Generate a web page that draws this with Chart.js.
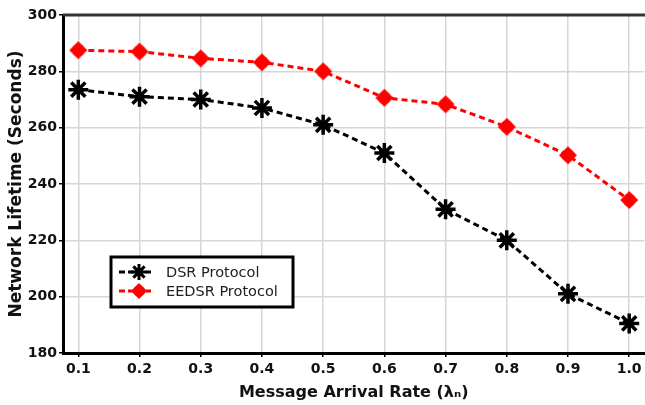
<!DOCTYPE html>
<html>
<head>
<meta charset="utf-8">
<script src="https://cdn.jsdelivr.net/npm/chart.js@4.4.1/dist/chart.umd.min.js"></script>
<style>
  html, body { margin: 0; padding: 0; background: #fff; overflow: hidden; }
  #wrap { width: 645px; height: 405px; overflow: hidden; }
</style>
</head>
<body>
<!-- canvas is a bit wider than the window: the plot runs off the right edge as in the source figure -->
<div id="wrap"><canvas id="lifetimeChart" width="658" height="405"></canvas></div>
<script>
const arrivalRates = [0.1, 0.2, 0.3, 0.4, 0.5, 0.6, 0.7, 0.8, 0.9, 1.0];
const dsrLifetime = [273.5, 271, 270, 267, 261, 251, 231, 220, 201, 190.5];
const eedsrLifetime = [287.5, 287, 284.6, 283.2, 280, 270.6, 268.3, 260.3, 250.2, 234.3];
const yTicks = [180, 200, 220, 240, 260, 280, 300];

const FONT = "'DejaVu Sans', sans-serif";

// red marker: a diamond laid over a disc
function diamondDot(r) {
    const c = document.createElement("canvas");
    c.width = c.height = r * 2 + 2;
    const g = c.getContext("2d");
    const m = r + 1;
    g.fillStyle = "#ff0000";
    g.beginPath();
    g.moveTo(m, m - r);
    g.lineTo(m + r, m);
    g.lineTo(m, m + r);
    g.lineTo(m - r, m);
    g.closePath();
    g.fill();
    g.beginPath();
    g.arc(m, m, r * 0.72, 0, Math.PI * 2);
    g.fill();
    return c;
}
const redMarker = diamondDot(9);
const redMarkerSmall = diamondDot(8);

// legend box drawn inside the plot area, like the original figure
const boxLegend = {
    id: "boxLegend",
    afterDraw(chart) {
        const ctx = chart.ctx;
        const x = 111, y = 257, w = 182, h = 50;
        ctx.save();
        ctx.fillStyle = "#fff";
        ctx.fillRect(x, y, w, h);
        ctx.lineWidth = 3;
        ctx.strokeStyle = "#000";
        ctx.strokeRect(x, y, w, h);
        chart.data.datasets.forEach((ds, i) => {
            const ly = y + 15 + i * 19;
            ctx.setLineDash([6, 3]);
            ctx.lineWidth = 3;
            ctx.strokeStyle = ds.borderColor;
            ctx.beginPath();
            ctx.moveTo(x + 8, ly);
            ctx.lineTo(x + 40, ly);
            ctx.stroke();
            ctx.setLineDash([]);
            if (i === 1) {
                ctx.drawImage(redMarkerSmall, x + 28 - redMarkerSmall.width / 2, ly - redMarkerSmall.height / 2);
            } else {
                ctx.strokeStyle = "#000";
                Chart.helpers.drawPoint(ctx, {
                    pointStyle: "star", radius: 8, rotation: 0, borderWidth: 3.5
                }, x + 28, ly);
            }
            ctx.fillStyle = "#222";
            ctx.font = "14.5px " + FONT;
            ctx.textBaseline = "middle";
            ctx.fillText(ds.label, x + 55, ly + 1);
        });
        ctx.restore();
    }
};

// heavy frame line along the top of the plot
const topFrame = {
    id: "topFrame",
    afterDatasetsDraw(chart) {
        const { ctx, chartArea } = chart;
        ctx.save();
        ctx.strokeStyle = "#333";
        ctx.lineWidth = 3;
        ctx.beginPath();
        ctx.moveTo(chartArea.left, chartArea.top);
        ctx.lineTo(chartArea.right + 20, chartArea.top);
        ctx.stroke();
        ctx.restore();
    }
};

new Chart(document.getElementById("lifetimeChart"), {
    type: "line",
    data: {
        datasets: [
            {
                label: "DSR Protocol",
                data: arrivalRates.map((r, i) => ({ x: r, y: dsrLifetime[i] })),
                borderColor: "#000",
                borderWidth: 3,
                borderDash: [6, 4],
                pointStyle: "star",
                pointRadius: 10,
                pointBorderWidth: 3.5,
                pointBorderColor: "#000",
                pointBackgroundColor: "#000",
                tension: 0
            },
            {
                label: "EEDSR Protocol",
                data: arrivalRates.map((r, i) => ({ x: r, y: eedsrLifetime[i] })),
                borderColor: "#ff0000",
                borderWidth: 3,
                borderDash: [6, 4],
                pointStyle: redMarker,
                pointRadius: 9,
                pointBorderColor: "#ff0000",
                pointBackgroundColor: "#ff0000",
                tension: 0
            }
        ]
    },
    options: {
        responsive: false,
        animation: false,
        layout: { padding: { top: 15, right: 0, left: 0, bottom: 0 } },
        plugins: { legend: { display: false }, tooltip: { enabled: false } },
        scales: {
            x: {
                type: "linear",
                min: 0.075,
                max: 1.025,
                afterBuildTicks: scale => { scale.ticks = arrivalRates.map(v => ({ value: v })); },
                afterFit: scale => { scale.height = 52; },
                ticks: {
                    callback: v => v.toFixed(1),
                    color: "#111",
                    font: { family: FONT, size: 14, weight: "bold" },
                    padding: 4,
                    maxRotation: 0
                },
                grid: { color: "#d6d6d6", lineWidth: 1.5, tickLength: 4, tickColor: "#000" },
                border: { color: "#000", width: 3 },
                title: {
                    display: true,
                    text: "Message Arrival Rate (λₙ)",
                    color: "#111",
                    font: { family: FONT, size: 16, weight: "bold" },
                    padding: { top: 2, bottom: 3 }
                }
            },
            y: {
                min: 180,
                max: 300,
                afterBuildTicks: scale => { scale.ticks = yTicks.map(v => ({ value: v })); },
                afterFit: scale => { scale.width = 63; },
                ticks: {
                    color: "#111",
                    font: { family: FONT, size: 14, weight: "bold" },
                    padding: 2
                },
                grid: { color: "#d6d6d6", lineWidth: 1.5, tickLength: 4, tickColor: "#000" },
                border: { color: "#000", width: 3 },
                title: {
                    display: true,
                    text: "Network Lifetime (Seconds)",
                    color: "#111",
                    font: { family: FONT, size: 17, weight: "bold" },
                    padding: { top: 6, bottom: 4 }
                }
            }
        }
    },
    plugins: [topFrame, boxLegend]
});
</script>
</body>
</html>
